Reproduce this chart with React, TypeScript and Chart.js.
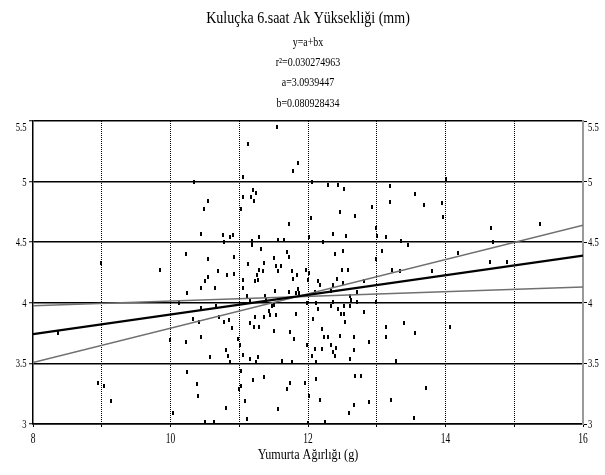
import React, { useEffect, useRef } from "react";
import { Chart, registerables } from "chart.js";

Chart.register(...registerables);

// ---- Data ----
const eggWeight: number[] = [
  8.99, 9.85, 8.37, 9.99, 8.94, 9.03, 9.13, 10.03,
  11.55, 11.13, 11.85, 11.78, 11.06, 10.34, 12.06,
  11.2, 11.24, 11.05, 11.17, 10.54, 11.22, 10.48, 11.03, 12.04, 11.73, 10.45, 10.77, 10.91, 10.87, 11.29, 11.57, 11.65, 10.78, 11.18, 11.19, 12.01,
  10.22, 10.93, 11.31, 10.54, 11.5, 11.7, 11.73, 11.12, 11.36, 11.53, 11.6, 11.29, 11.35, 11.56, 10.69, 11.77, 11.26, 10.82, 10.93, 10.54, 11.97, 11.84, 11.78, 10.5, 11.23, 11.27, 11.06, 12.0, 10.44, 10.64, 11.05, 10.24, 11.52, 11.73, 11.82, 11.86, 11.87, 11.11, 11.15, 11.38, 11.39, 10.12, 10.44, 10.66, 11.48, 11.51, 11.98, 11.43,
  10.33, 10.71, 11.83, 10.78, 10.85, 11.23, 11.36, 11.44, 11.53, 10.42, 12.07, 11.16, 11.21, 11.28, 10.9, 11.51, 11.74, 10.44, 11.8, 10.98, 10.22, 11.01, 11.98, 12.06, 10.8, 10.83, 10.57, 11.06, 11.16, 11.27, 10.87, 11.24, 11.62, 11.76,
  10.24, 11.02, 11.36, 11.2, 11.74, 11.95, 10.39, 11.7, 11.02, 10.99, 12.01, 10.4, 11.08, 10.81, 11.56, 10.5, 10.63, 11.11, 12.0,
  14.01,
  12.29, 12.43, 12.52, 13.19, 13.55, 13.19, 13.68, 13.95, 13.97, 12.93, 12.46, 12.69, 12.99, 12.36, 12.55, 13.0, 13.13, 13.35, 12.22, 13.45,
  13.08, 12.39, 12.51, 12.99, 12.5, 12.58, 13.22, 13.34, 13.8, 12.02,
  12.42, 12.81, 12.15, 12.18, 12.51, 12.36, 12.33, 12.71, 12.61, 12.1, 12.63, 12.36, 12.71, 12.12, 12.99,
  12.15, 12.34, 12.44, 12.52, 12.61, 12.48, 12.52, 12.81, 12.54, 12.2, 12.46, 12.23, 12.29, 12.67, 13.13, 13.14, 13.4, 13.55, 12.88, 12.34, 12.4, 12.1, 12.2, 12.36, 12.39, 12.67, 12.61, 12.12, 13.28,
  12.69, 12.77, 12.12, 13.71, 12.17, 13.21, 12.88, 12.67, 12.59, 13.54, 12.25,
  14.66, 15.38, 14.69, 14.18, 14.64, 14.89, 14.07,
];

const albumenHeight: number[] = [
  4.33, 4.27, 3.75, 3.69, 3.34, 3.31, 3.19, 3.09,
  5.45, 5.31, 5.15, 5.09, 5.04, 5.0, 5.0,
  4.93, 4.91, 4.87, 4.87, 4.84, 4.84, 4.77, 4.77, 4.7, 4.65, 4.57, 4.56, 4.56, 4.54, 4.54, 4.52, 4.52, 4.5, 4.51, 4.48, 4.54,
  4.4, 4.38, 4.44, 4.36, 4.37, 4.42, 4.38, 4.32, 4.33, 4.3, 4.3, 4.27, 4.26, 4.26, 4.26, 4.26, 4.23, 4.23, 4.24, 4.21, 4.27, 4.23, 4.2, 4.18, 4.18, 4.19, 4.19, 4.19, 4.12, 4.12, 4.12, 4.08, 4.1, 4.09, 4.08, 4.11, 4.08, 4.06, 4.02, 4.06, 4.02, 4.0, 3.96, 3.97, 3.97, 3.98, 4.0, 3.93,
  3.87, 3.88, 3.91, 3.84, 3.86, 3.88, 3.88, 3.9, 3.9, 3.84, 3.87, 3.83, 3.8, 3.8, 3.79, 3.77, 3.76, 3.72, 3.7, 3.7, 3.68, 3.65, 3.65, 3.56, 3.61, 3.56, 3.55, 3.57, 3.54, 3.55, 3.51, 3.51, 3.52, 3.51,
  3.43, 3.44, 3.39, 3.36, 3.34, 3.34, 3.33, 3.29, 3.31, 3.29, 3.23, 3.23, 3.19, 3.13, 3.12, 3.02, 3.02, 3.04, 3.01,
  5.02,
  4.97, 4.97, 4.94, 4.96, 4.9, 4.83, 4.81, 4.82, 4.71, 4.79, 4.75, 4.72, 4.62, 4.57, 4.55, 4.55, 4.54, 4.51, 4.5, 4.48,
  4.43, 4.4, 4.43, 4.36, 4.27, 4.27, 4.27, 4.26, 4.26, 4.25,
  4.2, 4.18, 4.18, 4.15, 4.16, 4.15, 4.1, 4.09, 4.06, 4.09, 4.02, 4.01, 4.01, 4.0, 4.01,
  3.95, 3.97, 3.95, 3.97, 3.97, 3.91, 3.91, 3.92, 3.84, 3.78, 3.73, 3.72, 3.72, 3.72, 3.8, 3.72, 3.83, 3.75, 3.68, 3.65, 3.63, 3.62, 3.62, 3.59, 3.56, 3.61, 3.54, 3.51, 3.52,
  3.4, 3.4, 3.37, 3.3, 3.2, 3.2, 3.18, 3.16, 3.09, 3.05, 3.02,
  4.62, 4.65, 4.5, 4.41, 4.34, 4.34, 3.8,
];

// Fitted line and the two band lines (values at x = 8 and x = 16)
const lineX: number[] = [8, 16];
const fitY: number[] = [3.741, 4.389];
const bandFlatY: number[] = [3.975, 4.13];
const bandSteepY: number[] = [3.508, 4.64];

const titleLines: string[] = [
  "Kuluçka 6.saat Ak Yüksekliği (mm)",
  "y=a+bx",
  "r²=0.030274963",
  "a=3.0939447",
  "b=0.080928434",
];
const xAxisTitle = "Yumurta Ağırlığı (g)";
const yTickValues: number[] = [3, 3.5, 4, 4.5, 5, 5.5];
const xTickValues: number[] = [8, 10, 12, 14, 16];

const FONT = '"Liberation Serif", "Times New Roman", serif';

function drawText(
  ctx: CanvasRenderingContext2D,
  text: string,
  x: number,
  y: number,
  size: number,
  sx: number,
  align: CanvasTextAlign
) {
  ctx.save();
  ctx.font = `${size}px ${FONT}`;
  ctx.fillStyle = "#000";
  ctx.textBaseline = "alphabetic";
  ctx.textAlign = align;
  ctx.translate(x, y);
  ctx.scale(sx, 1);
  ctx.fillText(text, 0, 0);
  ctx.restore();
}

const textPlugin = {
  id: "textPlugin",
  afterDraw(chart: any) {
    const ctx: CanvasRenderingContext2D = chart.ctx;
    const area = chart.chartArea;
    const cx = (area.left + area.right) / 2;
    // Title block
    drawText(ctx, titleLines[0], cx, 22.7, 16.5, 0.85, "center");
    const baselines = [45.5, 65.7, 85.7, 106.5];
    for (let i = 1; i < titleLines.length; i++) {
      drawText(ctx, titleLines[i], cx, baselines[i - 1], 13, 0.77, "center");
    }
    // Y tick labels (left and right)
    const ys = chart.scales.y;
    for (const v of yTickValues) {
      let py = ys.getPixelForValue(v);
      py = Math.max(py, area.top + 5.5);
      const label = String(v);
      drawText(ctx, label, area.left - 6.5, py + 4, 12, 0.72, "right");
      drawText(ctx, label, area.right + 5, py + 4, 12, 0.72, "left");
    }
    // X tick labels
    const xs = chart.scales.x;
    for (const v of xTickValues) {
      const px = xs.getPixelForValue(v);
      drawText(ctx, String(v), px, area.bottom + 18.7, 15, 0.63, "center");
    }
    // X axis title
    drawText(ctx, xAxisTitle, cx, area.bottom + 35.3, 15, 0.81, "center");
  },
};

function makeDot(): HTMLCanvasElement {
  const c = document.createElement("canvas");
  c.width = 2;
  c.height = 4;
  const g = c.getContext("2d")!;
  g.fillStyle = "#000";
  g.fillRect(0, 0, 2, 4);
  return c;
}

export default function App() {
  const ref = useRef<HTMLCanvasElement | null>(null);

  useEffect(() => {
    if (!ref.current) return;
    const points = eggWeight.map((x, i) => ({ x, y: albumenHeight[i] }));
    const seg = (ys: number[]) => lineX.map((x, i) => ({ x, y: ys[i] }));
    const dot = makeDot();

    const chart = new Chart(ref.current, {
      type: "scatter",
      data: {
        datasets: [
          {
            label: "data",
            data: points,
            pointStyle: dot as any,
            pointRadius: 2,
            backgroundColor: "#000",
            borderColor: "#000",
            showLine: false,
            order: 2,
          },
          {
            label: "band1",
            data: seg(bandFlatY),
            showLine: true,
            borderColor: "#707070",
            borderWidth: 1.5,
            pointRadius: 0,
            order: 1,
          },
          {
            label: "band2",
            data: seg(bandSteepY),
            showLine: true,
            borderColor: "#707070",
            borderWidth: 1.5,
            pointRadius: 0,
            order: 1,
          },
          {
            label: "fit",
            data: seg(fitY),
            showLine: true,
            borderColor: "#000",
            borderWidth: 2.2,
            pointRadius: 0,
            order: 0,
          },
        ],
      },
      options: {
        animation: false,
        responsive: false,
        devicePixelRatio: 1,
        events: [],
        layout: { padding: { top: 121, left: 0, right: 0, bottom: 0 } },
        plugins: {
          legend: { display: false },
          title: { display: false },
          tooltip: { enabled: false },
        },
        scales: {
          x: {
            type: "linear",
            position: "bottom",
            min: 8,
            max: 16,
            ticks: { stepSize: 1, display: false },
            grid: {
              color: (c: any) =>
                c.tick && (c.tick.value === 8 || c.tick.value === 16)
                  ? "rgba(0,0,0,0)"
                  : "#000",
              lineWidth: 1,
              tickLength: 3,
              tickColor: "#000",
              tickWidth: 1,
              tickBorderDash: [],
            } as any,
            border: { display: true, color: "#000", width: 1.5, dash: [1, 1] },
            afterFit: (s: any) => {
              s.height = 51;
            },
          },
          y: {
            type: "linear",
            position: "left",
            min: 3,
            max: 5.5,
            ticks: { stepSize: 0.5, display: false },
            grid: { color: "#000", lineWidth: 1.5, tickLength: 4, tickColor: "#000", tickWidth: 1 },
            border: { display: true, color: "#000", width: 1.5 },
            afterFit: (s: any) => {
              s.width = 33;
            },
          },
          y2: {
            type: "linear",
            position: "right",
            min: 3,
            max: 5.5,
            ticks: { stepSize: 0.5, display: false },
            grid: { drawOnChartArea: false, color: "#000", lineWidth: 1, tickLength: 4 },
            border: { display: true, color: "#9a9a9a", width: 2 },
            afterFit: (s: any) => {
              s.width = 22;
            },
          },
        },
      },
      plugins: [textPlugin],
    });
    return () => chart.destroy();
  }, []);

  return (
    <div style={{ width: 605, height: 475, background: "#fff" }}>
      <style>{`body{margin:0;background:#fff}`}</style>
      <canvas ref={ref} width={605} height={475} style={{ display: "block" }} />
    </div>
  );
}
